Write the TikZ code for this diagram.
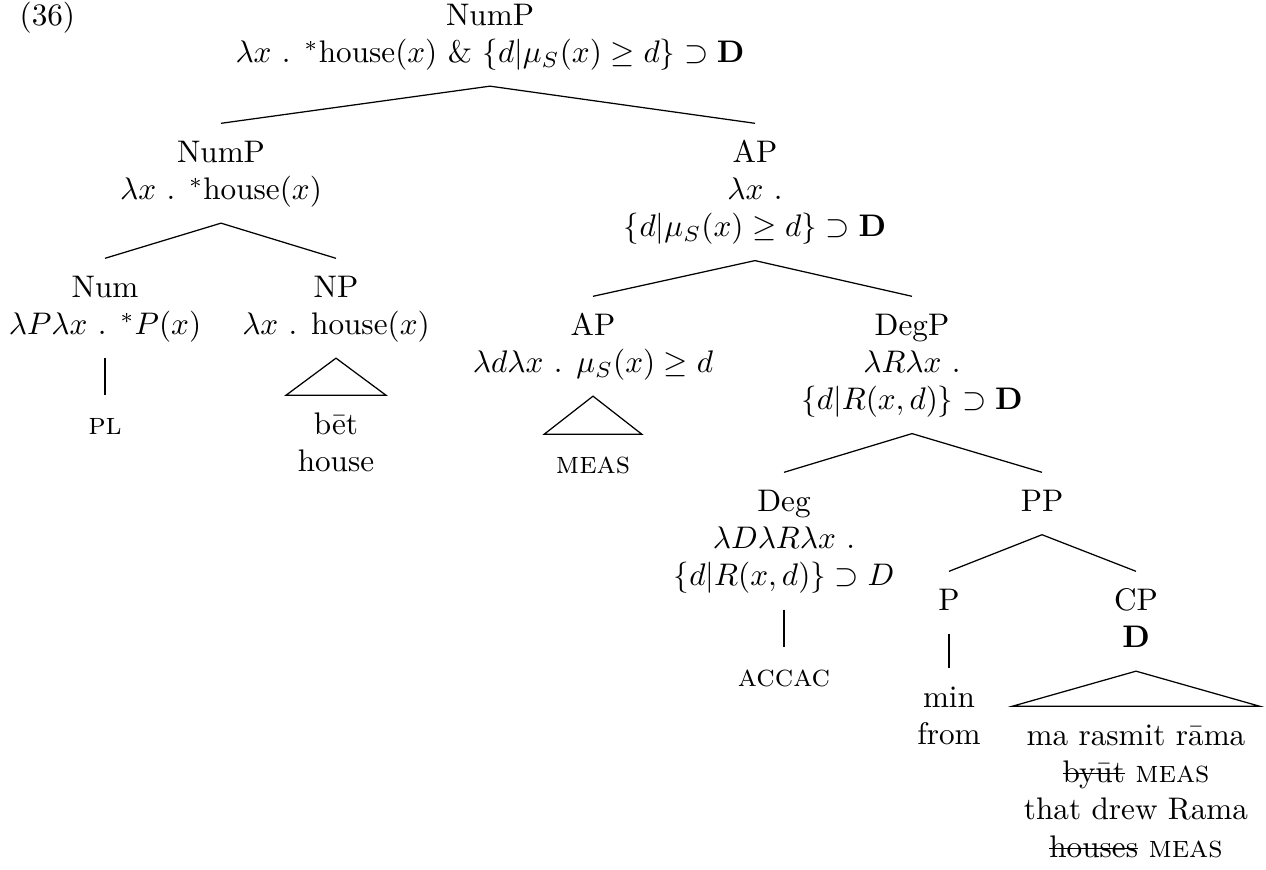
\documentclass[tikz,border=0pt]{standalone}
\newcommand\trl[1]{\begin{tabular}[t]{@{}c@{}}#1\end{tabular}}
\newcommand\strk[1]{\setbox0=\hbox{#1}\rlap{\raise0.6ex\hbox{\vrule width\wd0 height0.4pt depth0pt}}\box0\relax}
\tikzset{
  tn/.style={inner sep=0pt, outer xsep=0pt, outer ysep=4pt, anchor=base},
  tri/.style={tn, inner xsep=3.8pt},
  br/.style={line width=0.4pt}
}
\begin{document}
\begin{tikzpicture}[x=0.3205pt,y=-0.3205pt]
\useasboundingbox (0,0) rectangle (1266,869);
\node[inner sep=0pt, anchor=base west] (ex) at (19,25) {(36)};
\node[tn] (root) at (490,25) {\trl{NumP\\$\lambda x$ . $^*$house($x$) \& $\{d|\mu_S(x)\geq d\}\supset\mathbf{D}$}};
\node[tn] (nump) at (221,162) {\trl{NumP\\$\lambda x$ . $^*$house($x$)}};
\node[tn] (apa) at (755,162) {\trl{AP\\$\lambda x$ .\\$\{d|\mu_S(x)\geq d\}\supset\mathbf{D}$}};
\node[tn] (num) at (105,297) {\trl{Num\\$\lambda P\lambda x$ . $^*P(x)$}};
\node[tn] (np) at (336,297) {\trl{NP\\$\lambda x$ . house($x$)}};
\node[tn] (apb) at (593,335) {\trl{AP\\$\lambda d\lambda x$ . $\mu_S(x)\geq d$}};
\node[tn] (degp) at (912,335) {\trl{DegP\\$\lambda R\lambda x$ .\\$\{d|R(x,d)\}\supset\mathbf{D}$}};
\node[tn] (pl) at (105,434) {\trl{\textsc{pl}}};
\node[tri] (bet) at (336,434) {\trl{bēt\\house}};
\node[tri] (meas) at (593,473) {\trl{\textsc{meas}}};
\node[tn] (deg) at (784,511) {\trl{Deg\\$\lambda D\lambda R\lambda x$ .\\$\{d|R(x,d)\}\supset D$}};
\node[tn] (pp) at (1042,511) {\trl{PP}};
\node[tn] (accac) at (784,686) {\trl{\textsc{accac}}};
\node[tn] (p) at (949,610) {\trl{P}};
\node[tn] (cp) at (1136,610) {\trl{CP\\$\mathbf{D}$}};
\node[tn] (min) at (949,707) {\trl{min\\from}};
\node[tri] (cpl) at (1136,745) {\trl{ma rasmit rāma\\\strk{byūt} \textsc{meas}\\that drew Rama\\\strk{houses} \textsc{meas}}};
\draw[br] (nump.north) -- (root.south) -- (apa.north);
\draw[br] (num.north) -- (nump.south) -- (np.north);
\draw[br] (apb.north) -- (apa.south) -- (degp.north);
\draw[br] (num.south) -- (pl.north);
\draw[br] (np.south) -- (bet.north west) -- (bet.north east) -- cycle;
\draw[br] (apb.south) -- (meas.north west) -- (meas.north east) -- cycle;
\draw[br] (deg.north) -- (degp.south) -- (pp.north);
\draw[br] (deg.south) -- (accac.north);
\draw[br] (p.north) -- (pp.south) -- (cp.north);
\draw[br] (p.south) -- (min.north);
\draw[br] (cp.south) -- (cpl.north west) -- (cpl.north east) -- cycle;
\end{tikzpicture}
\end{document}
